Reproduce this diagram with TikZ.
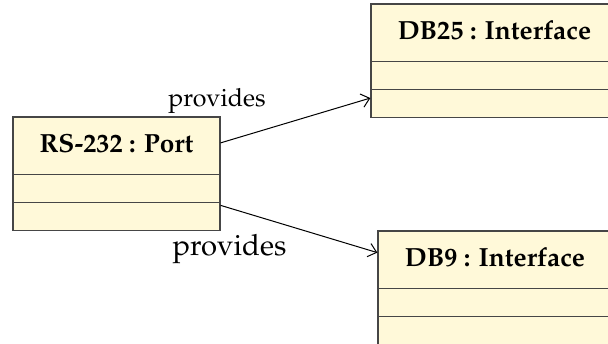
\documentclass[tikz,border=0pt]{standalone}
\usepackage[T1]{fontenc}
\usepackage{mathpazo}
\usepackage{tikz}
\usetikzlibrary{arrows.meta}
\usetikzlibrary{shapes.multipart}
\definecolor{classfill}{RGB}{255,249,217}
\definecolor{classline}{RGB}{70,70,70}
\tikzset{umlclass/.style = {rectangle split, rectangle split parts = 3, draw = classline,
                            fill = classfill, line width = 0.5pt, inner xsep = 0, inner ysep = 0,
                            rectangle split empty part height = 10.8pt,
                            rectangle split empty part depth = 0pt,
                            font = \fontsize{10.5}{12}\selectfont\bfseries}}
\tikzset{provides/.style = {draw, line width = 0.4pt, -{Straight Barb[length=3.2pt, width=5.5pt]}}}
\tikzset{lbl/.style = {inner sep = 0, anchor = base}}
\newcommand{\classhead}[1]{\rule[-8.4pt]{0pt}{22.4pt}#1}

\begin{document}
\begin{tikzpicture}[x=0.4pt, y=-0.4pt]
    \useasboundingbox (0, 0) rectangle (608, 344);

    \node [umlclass, minimum width = 82.8pt] (port) at (116.5, 174) {\classhead{RS-232 : Port} \nodepart{second} \nodepart{third}};
    \node [umlclass, minimum width = 98.8pt] (db25) at (494.5, 61) {\classhead{DB25 : Interface} \nodepart{second} \nodepart{third}};
    \node [umlclass, minimum width = 93.6pt] (db9) at (495, 288) {\classhead{DB9 : Interface} \nodepart{second} \nodepart{third}};

    \draw [provides] (port) -- (db25);
    \draw [provides] (port) -- (db9);
    \node [lbl] (lbl25) at (217, 107) {provides};
    \node [lbl, font = \fontsize{11.7}{14}\selectfont] (lbl9) at (229.5, 256) {provides};
  \end{tikzpicture}
\end{document}
